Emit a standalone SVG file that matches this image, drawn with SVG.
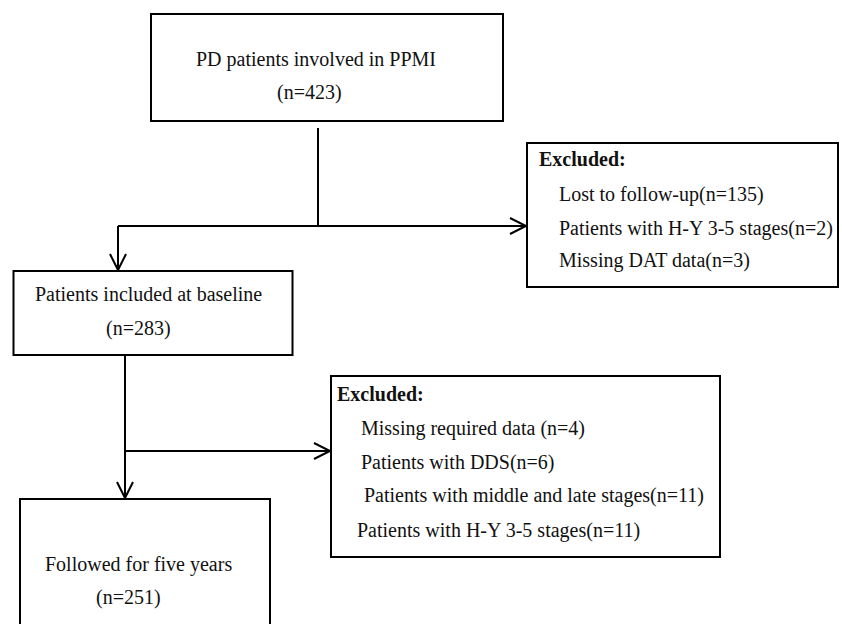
<svg xmlns="http://www.w3.org/2000/svg" width="842" height="624" viewBox="0 0 842 624">
<style>
.box{fill:#fff;stroke:#000;stroke-width:2}
.t{font-family:"Liberation Serif","Times New Roman",serif;font-size:20px;fill:#111}
.b{font-weight:bold}
.c{fill:none;stroke:#000;stroke-width:2}
</style>
<defs>
<marker id="arr" markerUnits="userSpaceOnUse" markerWidth="20" markerHeight="20" viewBox="0 0 20 20" refX="17" refY="9" orient="auto">
<path d="M1,1 L17,9 L1,17" fill="none" stroke="#000" stroke-width="2"/>
</marker>
</defs>
<rect width="842" height="624" fill="#fff"/>
<g id="connectors">
<path class="c" d="M318,128 V226"/>
<path class="c" d="M118,226 H526" marker-end="url(#arr)"/>
<path class="c" d="M118,226 V270" marker-end="url(#arr)"/>
<path class="c" d="M125,355 V498" marker-end="url(#arr)"/>
<path class="c" d="M125,451 H330" marker-end="url(#arr)"/>
</g>
<g id="n_ppmi">
<rect class="box" x="151" y="14" width="352" height="107"/>
<text class="t" x="196" y="66">PD patients involved in PPMI</text>
<text class="t" x="277" y="99">(n=423)</text>
</g>
<g id="n_excluded1">
<rect class="box" x="527" y="143" width="311" height="144"/>
<text class="t b" x="539" y="166">Excluded:</text>
<text class="t" x="559" y="201">Lost to follow-up(n=135)</text>
<text class="t" x="559" y="235">Patients with H-Y 3-5 stages(n=2)</text>
<text class="t" x="559" y="267">Missing DAT data(n=3)</text>
</g>
<g id="n_baseline">
<rect class="box" x="13.5" y="271" width="279" height="84"/>
<text class="t" x="35" y="301">Patients included at baseline</text>
<text class="t" x="106" y="335">(n=283)</text>
</g>
<g id="n_excluded2">
<rect class="box" x="331" y="376" width="389" height="181"/>
<text class="t b" x="337" y="401">Excluded:</text>
<text class="t" x="361" y="435">Missing required data (n=4)</text>
<text class="t" x="361" y="469">Patients with DDS(n=6)</text>
<text class="t" x="364" y="502">Patients with middle and late stages(n=11)</text>
<text class="t" x="357" y="537">Patients with H-Y 3-5 stages(n=11)</text>
</g>
<g id="n_followed">
<rect class="box" x="20" y="499" width="250" height="140"/>
<text class="t" x="45" y="571">Followed for five years</text>
<text class="t" x="96" y="604">(n=251)</text>
</g>
</svg>
